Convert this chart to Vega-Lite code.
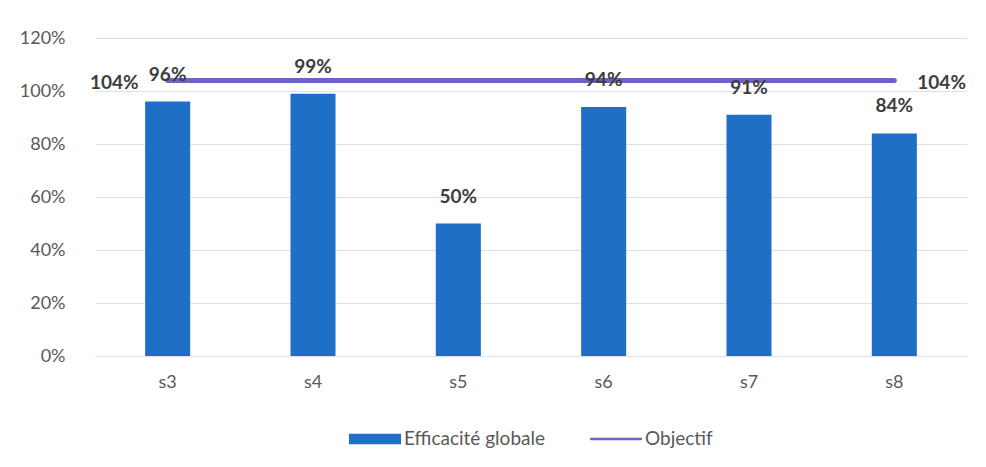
{
  "$schema": "https://vega.github.io/schema/vega-lite/v6.json",
  "width": 872,
  "height": 318,
  "autosize": {"type": "none"},
  "padding": {"left": 95, "top": 38, "right": 19, "bottom": 111},
  "background": "#ffffff",
  "config": {
    "view": {"stroke": null},
    "font": "Lato",
    "axis": {"labelFont": "Lato", "labelColor": "#595959", "labelFontSize": 18, "gridColor": "#dcdff0", "domain": false, "ticks": false, "title": null},
    "legend": {"layout": {"bottom": {"anchor": "middle"}}}
  },
  "data": {
    "values": [
      {"semaine": "s3", "efficacite": 0.96, "objectif": 1.04},
      {"semaine": "s4", "efficacite": 0.99, "objectif": 1.04},
      {"semaine": "s5", "efficacite": 0.50, "objectif": 1.04},
      {"semaine": "s6", "efficacite": 0.94, "objectif": 1.04},
      {"semaine": "s7", "efficacite": 0.91, "objectif": 1.04},
      {"semaine": "s8", "efficacite": 0.84, "objectif": 1.04}
    ]
  },
  "encoding": {
    "x": {
      "field": "semaine", "type": "nominal", "sort": null,
      "scale": {"paddingInner": 0.69, "paddingOuter": 0.345},
      "axis": {"labelAngle": 0, "labelPadding": 17, "grid": false, "domain": true, "domainColor": "#dcdff0", "domainWidth": 1}
    }
  },
  "layer": [
    {
      "mark": {"type": "bar", "color": "#1F6FC6"},
      "encoding": {
        "y": {
          "field": "efficacite", "type": "quantitative",
          "scale": {"domain": [0, 1.2], "nice": false},
          "axis": {"format": ".0%", "values": [0, 0.2, 0.4, 0.6, 0.8, 1.0, 1.2], "labelPadding": 30}
        },
        "color": {
          "datum": "Efficacité globale",
          "scale": {"domain": ["Efficacité globale", "Objectif"], "range": ["#1F6FC6", "#6E63C4"]},
          "legend": {
            "orient": "bottom",
            "direction": "horizontal",
            "title": null,
            "offset": 22,
            "labelFont": "Lato",
            "labelFontSize": 19,
            "labelColor": "#595959",
            "labelOffset": 3,
            "columnPadding": 44,
            "symbolSize": 2704,
            "encode": {
              "symbols": {
                "update": {
                  "shape": {"signal": "datum.value === 'Objectif' ? 'M-0.96,-0.045H0.96A0.045,0.045 0 0 1 0.96,0.045H-0.96A0.045,0.045 0 0 1 -0.96,-0.045Z' : 'M-1,-0.2H1V0.2H-1Z'"},
                  "fill": {"signal": "datum.value === 'Objectif' ? '#6E63C4' : '#1F6FC6'"},
                  "stroke": {"value": "transparent"},
                  "strokeWidth": {"value": 0},
                  "size": {"value": 2704},
                  "opacity": {"value": 1}
                }
              }
            }
          }
        }
      }
    },
    {
      "mark": {"type": "line", "strokeWidth": 5, "strokeCap": "round"},
      "encoding": {
        "y": {"field": "objectif", "type": "quantitative"},
        "color": {"datum": "Objectif"}
      }
    },
    {
      "mark": {"type": "text", "baseline": "bottom", "dy": -17, "fontSize": 19, "fontWeight": "bold", "color": "#3d3d3d"},
      "encoding": {
        "y": {"field": "efficacite", "type": "quantitative"},
        "text": {"field": "efficacite", "type": "quantitative", "format": ".0%"}
      }
    },
    {
      "transform": [{"filter": "datum.semaine === 's3'"}],
      "mark": {"type": "text", "align": "right", "baseline": "middle", "dx": -29, "dy": 3, "fontSize": 19, "fontWeight": "bold", "color": "#3d3d3d"},
      "encoding": {
        "y": {"field": "objectif", "type": "quantitative"},
        "text": {"field": "objectif", "type": "quantitative", "format": ".0%"}
      }
    },
    {
      "transform": [{"filter": "datum.semaine === 's8'"}],
      "mark": {"type": "text", "align": "left", "baseline": "middle", "dx": 23, "dy": 3, "fontSize": 19, "fontWeight": "bold", "color": "#3d3d3d"},
      "encoding": {
        "y": {"field": "objectif", "type": "quantitative"},
        "text": {"field": "objectif", "type": "quantitative", "format": ".0%"}
      }
    }
  ]
}
